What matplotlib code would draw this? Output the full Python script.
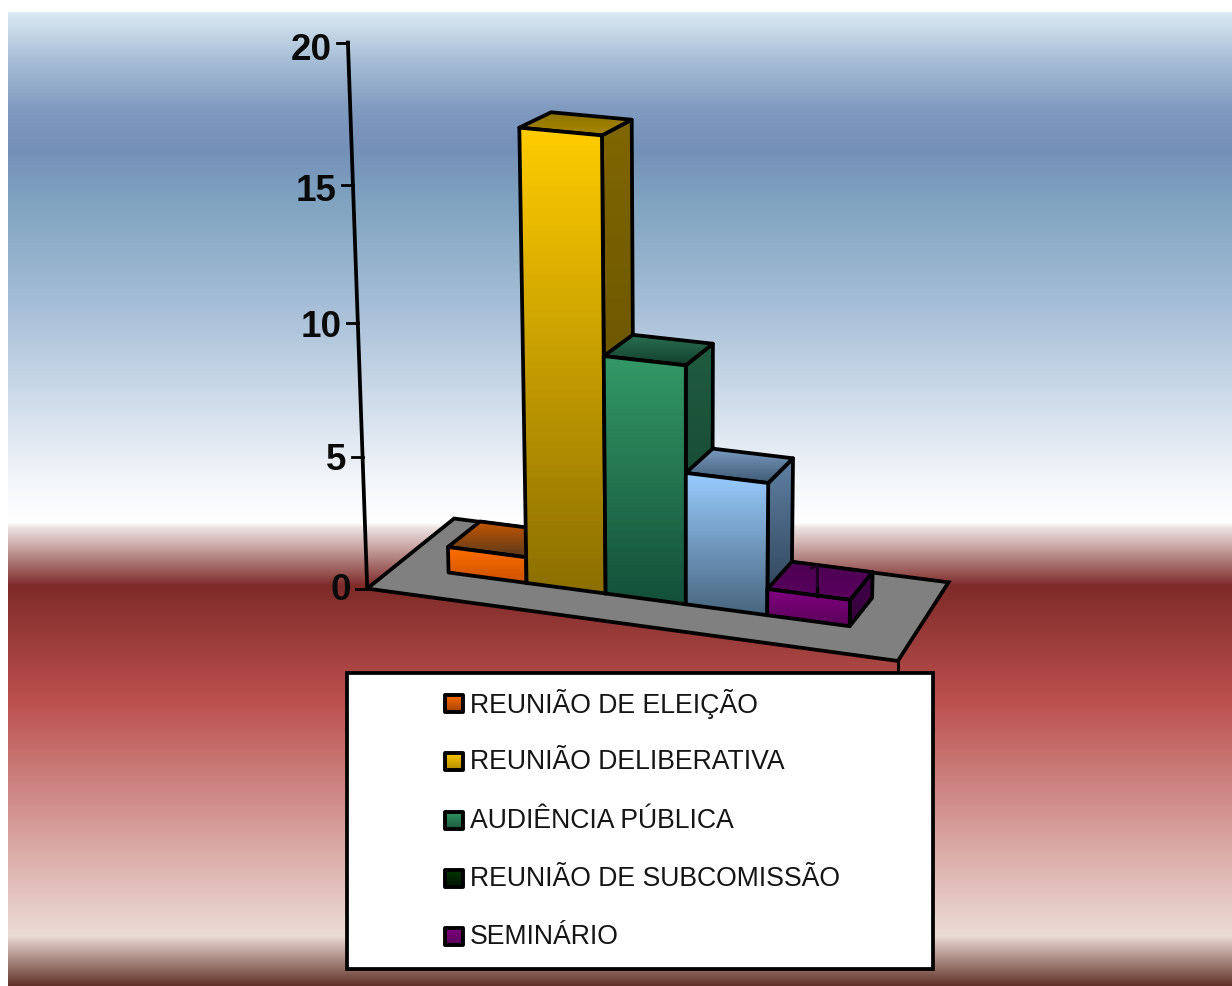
import matplotlib
matplotlib.use("Agg")
import matplotlib.pyplot as plt
import numpy as np
from matplotlib.colors import LinearSegmentedColormap
from matplotlib.patches import Polygon, Rectangle

plt.rcParams['font.family'] = ['Liberation Sans', 'DejaVu Sans']

categories = ["REUNIÃO DE ELEIÇÃO", "REUNIÃO DELIBERATIVA", "AUDIÊNCIA PÚBLICA", "REUNIÃO DE SUBCOMISSÃO", "SEMINÁRIO"]
bar_values = [1, 17, 9, 5, 1]
bar_slots = [0, 1, 2, 3, 4]
y_ticks = [0, 5, 10, 15, 20]
shown_label = {4: "1"}

# front top, front bottom, side top, side bottom, lid back, lid front
bar_colors = [
    ("#ff6e00", "#cc5200", "#8a4000", "#5a3010", "#c65600", "#5c3a1c"),
    ("#ffcc00", "#8c6f00", "#806600", "#5c4900", "#8a7000", "#a88700"),
    ("#339966", "#14503a", "#1f5c40", "#143f2c", "#2a7052", "#123f2c"),
    ("#99ccff", "#48667f", "#5f80a3", "#2a3d50", "#7a9cc0", "#3f5a75"),
    ("#800080", "#5c005c", "#45004a", "#33003a", "#4c0052", "#5a005e"),
]
legend_colors = [
    ("#ff6e00", "#a84400"),
    ("#ffcc00", "#b89000"),
    ("#339966", "#1c5c40"),
    ("#033a03", "#001400"),
    ("#800080", "#5c005c"),
]

bg_stops = [(12, "#dce9f2"), (60, "#a6bed6"), (110, "#7f99bf"), (150, "#7590b8"), (200, "#7fa3c0"),
            (300, "#a4bdd6"), (400, "#cfdcea"), (480, "#f3f6fa"), (522, "#ffffff"), (527, "#ede4e2"),
            (585, "#7e2b29"), (700, "#bc504e"), (800, "#d08d8a"), (935, "#ecdcd6"), (986, "#5f2f25")]

# picture points used to work out the fake 3d camera: (slot edge, depth, value) -> pixel
calib = [
    (0, 0, 0, 450, 573), (0, 0, 1, 450, 547), (1, 0, 0, 527, 584), (1, 0, 17, 519, 128),
    (2, 0, 0, 604, 593), (2, 0, 17, 601, 133), (2, 0, 9, 603, 356), (3, 0, 0, 685, 604),
    (3, 0, 9, 685, 365), (3, 0, 5, 686, 473), (4, 0, 0, 767, 615), (4, 0, 5, 767, 483),
    (4, 0, 1, 768, 590), (5, 0, 0, 850, 627), (5, 0, 1, 850, 600), (5, 1, 0, 874, 600),
    (5, 1, 1, 874, 572), (4, 1, 1, 797, 562), (4, 1, 5, 793, 456), (3, 1, 5, 712, 448),
    (3, 1, 9, 713, 343), (2, 1, 9, 635, 335), (2, 1, 17, 633, 119), (1, 1, 17, 553, 114),
    (-0.67, -0.85, 0, 368, 587), (5.8, -0.85, 0, 897, 661), (-0.67, 1.85, 0, 454, 519),
    (5.8, 1.85, 0, 949, 583), (-0.67, -0.85, 5, 362, 457), (-0.67, -0.85, 10, 358, 322),
    (-0.67, -0.85, 15, 355, 186), (-0.67, -0.85, 20, 348, 44),
]

def fit_camera(points):
    rows = []
    rhs = []
    for a, b, c, px, py in points:
        rows.append([a, b, c, 1, 0, 0, 0, 0, -px * a, -px * b, -px * c])
        rows.append([0, 0, 0, 0, a, b, c, 1, -py * a, -py * b, -py * c])
        rhs += [px, py]
    m = np.linalg.lstsq(np.array(rows, float), np.array(rhs, float), rcond=None)[0]
    return np.append(m, 1).reshape(3, 4)

camera = fit_camera(calib)

def proj(slot, depth, value):
    u = camera @ np.array([slot, depth, value, 1.0])
    return u[0] / u[2], u[1] / u[2]

fig = plt.figure(figsize=(12.32, 9.86), dpi=100)
ax = fig.add_axes([0, 0, 1, 1])
ax.set_axis_off()

LW = 2.7

def grad_poly(pts, top, bottom, lw=LW, z=2):
    pts = np.array(pts)
    cmap = LinearSegmentedColormap.from_list("f", [top, bottom])
    im = ax.imshow(np.linspace(0, 1, 64).reshape(-1, 1), cmap=cmap, aspect="auto", zorder=z,
                   extent=(pts[:, 0].min(), pts[:, 0].max(), pts[:, 1].max(), pts[:, 1].min()))
    clip = Polygon(pts, closed=True, transform=ax.transData)
    im.set_clip_path(clip)
    ax.add_patch(Polygon(pts, closed=True, fill=False, edgecolor="black", linewidth=lw,
                         joinstyle="round", zorder=z))

# background
ys = np.arange(12, 986)
stop_y = [s[0] for s in bg_stops]
stop_rgb = np.array([matplotlib.colors.to_rgb(s[1]) for s in bg_stops])
bg = np.stack([np.interp(ys, stop_y, stop_rgb[:, k]) for k in range(3)], axis=1)[:, None, :]
ax.imshow(bg, aspect="auto", extent=(8, 1232, 986, 12), zorder=0)

# floor
left, right, front, back = -0.67, 5.8, -0.85, 1.85
ax.add_patch(Polygon([proj(left, front, 0), proj(right, front, 0), proj(right - 0.07, back, 0), proj(left - 0.04, back, 0)],
                     closed=True, facecolor="#808080", edgecolor="black", linewidth=LW, zorder=1))
fx, fy = proj(right, front, 0)
ax.plot([fx, fx], [fy, fy + 12], color="black", lw=2.2, zorder=1)

# value axis
a0 = proj(left, front, y_ticks[0])
a1 = proj(left, front, y_ticks[-1])
ax.plot([a0[0], a1[0] - 2], [a0[1], a1[1]], color="black", lw=LW, zorder=1)
for t in y_ticks:
    tx, ty = proj(left, front, t)
    tx -= 2 * t / y_ticks[-1]
    ax.plot([tx - 11, tx], [ty, ty], color="black", lw=2, zorder=1)
    ax.text(tx - 16, ty + 2 + 0.3 * t, str(t), ha="right", va="center", fontsize=26.5, fontweight="bold", color="#0a0a0a")

# bars, left to right so each one covers the side of the last
for slot, val, c in zip(bar_slots, bar_values, bar_colors):
    z = 2 + slot
    lid = [proj(slot, 0, val), proj(slot + 1, 0, val), proj(slot + 1, 1, val), proj(slot, 1, val)]
    side = [proj(slot + 1, 0, val), proj(slot + 1, 1, val), proj(slot + 1, 1, 0), proj(slot + 1, 0, 0)]
    face = [proj(slot, 0, val), proj(slot + 1, 0, val), proj(slot + 1, 0, 0), proj(slot, 0, 0)]
    grad_poly(side, c[2], c[3], z=z)
    grad_poly(lid, c[4], c[5], z=z)
    grad_poly(face, c[0], c[1], z=z)
    if slot in shown_label:
        lx, ly = proj(slot + 0.45, 0.5, val)
        bx, by = proj(slot + 0.6, 0, val)
        ax.plot([lx + 1, lx + 1], [ly + 7, by], color="black", lw=2.4, zorder=z + 1)
        # Roboto here because the regular Liberation 1 has a foot
        ax.text(lx - 1, ly - 1, shown_label[slot], ha="center", va="center", fontsize=24,
                family="Roboto", color="#1c0020", zorder=z + 1)

# legend box
ax.add_patch(Rectangle((347, 673), 586, 296, facecolor="white", edgecolor="black", linewidth=LW, zorder=10))
legend_y = [703, 761, 820, 878, 936]
for name, c, ly in zip(categories, legend_colors, legend_y):
    box = [(445, ly - 8.5), (462.5, ly - 8.5), (462.5, ly + 8.5), (445, ly + 8.5)]
    grad_poly(box, c[0], c[1], lw=2.8, z=11)
    ax.text(470, ly + 1, name, ha="left", va="center", fontsize=19.2, color="#151515", zorder=11)

ax.set_xlim(0, 1232)
ax.set_ylim(986, 0)
fig.savefig("out.png", dpi=100, facecolor="white")
